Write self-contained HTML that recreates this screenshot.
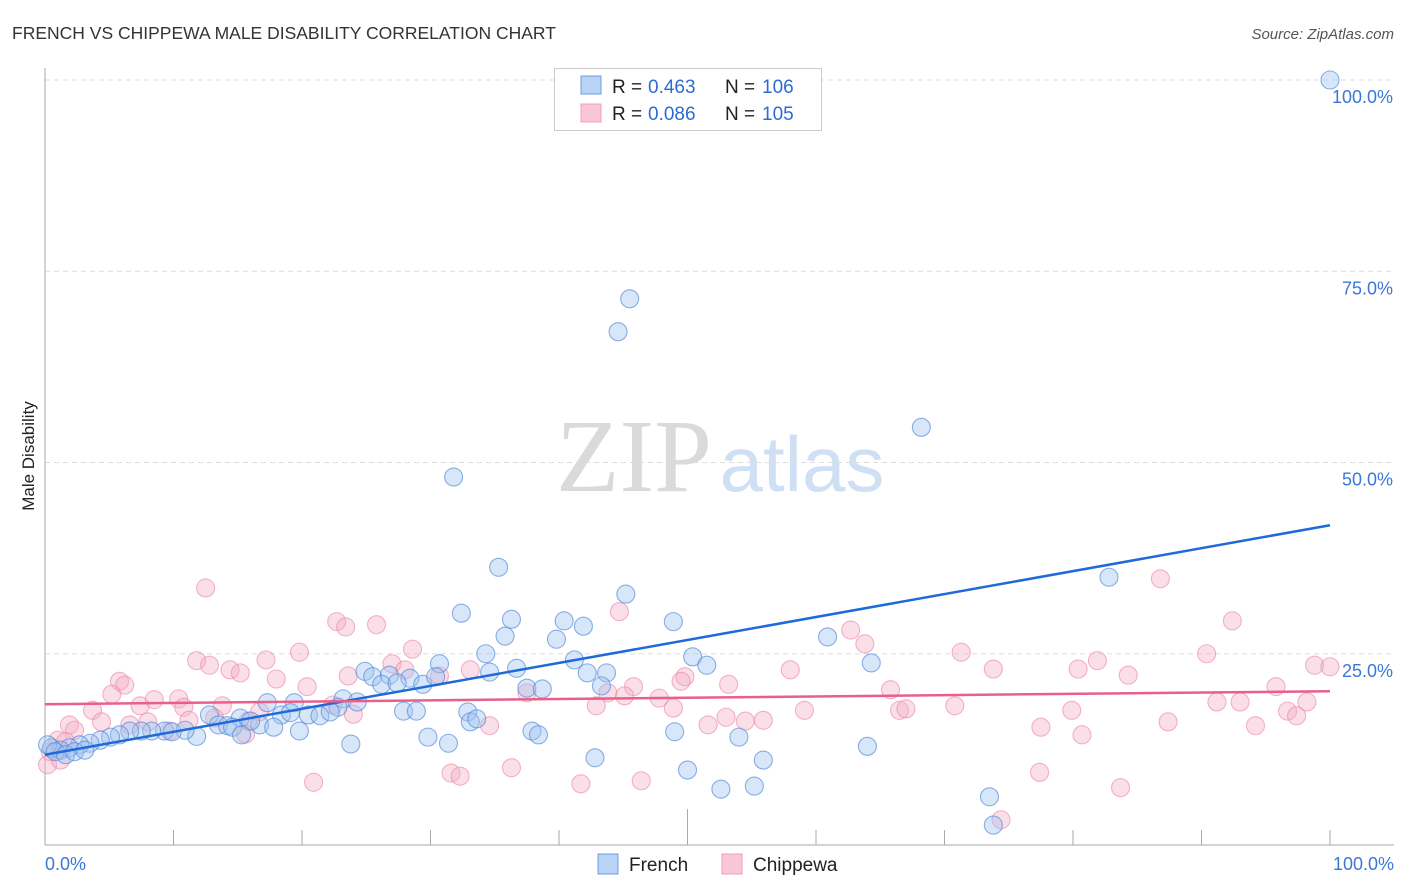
<!DOCTYPE html>
<html><head><meta charset="utf-8"><style>
body{margin:0;background:#fff;font-family:"Liberation Sans",sans-serif;}
svg{display:block}
</style></head><body>
<svg width="1406" height="892" id="chart">
<text x="12" y="39" font-size="17.5" fill="#333">FRENCH VS CHIPPEWA MALE DISABILITY CORRELATION CHART</text>
<text x="1394" y="39" font-size="15" fill="#555" font-style="italic" text-anchor="end">Source: ZipAtlas.com</text>
<text transform="translate(34,456) rotate(-90)" font-size="17" fill="#222" text-anchor="middle">Male Disability</text>
<g>
<text x="634" y="491" font-size="104" font-family="Liberation Serif,serif" fill="#dadada" text-anchor="middle">ZIP</text>
<text x="802" y="491" font-size="78" fill="#cfe0f5" text-anchor="middle">atlas</text>
</g>
<g id="grid"></g><g id="axes"></g><g id="pts"></g><g id="lines"></g>
<g>
<rect x="554.5" y="68.5" width="267" height="62" fill="#fff" stroke="#ccc"/>
<rect x="581" y="76" width="20" height="18" fill="#b9d3f5" stroke="#6d9de0"/>
<text x="612" y="93" font-size="19" fill="#222">R =</text>
<text x="648" y="93" font-size="19" fill="#2d6cd0">0.463</text>
<text x="725" y="93" font-size="19" fill="#222">N =</text>
<text x="762" y="93" font-size="19" fill="#2d6cd0">106</text>
<rect x="581" y="104" width="20" height="18" fill="#f8c6d5" stroke="#f0a0b8"/>
<text x="612" y="120" font-size="19" fill="#222">R =</text>
<text x="648" y="120" font-size="19" fill="#2d6cd0">0.086</text>
<text x="725" y="120" font-size="19" fill="#222">N =</text>
<text x="762" y="120" font-size="19" fill="#2d6cd0">105</text>
</g>
<g>
<rect x="598" y="854" width="20" height="20" fill="#b9d3f5" stroke="#6d9de0"/>
<text x="629" y="871" font-size="19" fill="#222">French</text>
<rect x="722" y="854" width="20" height="20" fill="#f8c6d5" stroke="#f0a0b8"/>
<text x="753" y="871" font-size="19" fill="#222">Chippewa</text>
</g>
</svg>
<script>
const yTicks=[25,50,75,100];
const yTickLabels=["25.0%","50.0%","75.0%","100.0%"];
const frenchX=[100,45.5,44.6,68.2,31.8,35.3,82.8,45.2,32.4,36.3,40.4,41.9,48.9,60.9,35.8,39.8,34.3,41.2,50.4,64.3,51.5,30.7,36.7,34.6,24.9,42.2,43.7,25.5,26.8,28.4,26.2,27.4,29.4,30.4,37.5,38.7,43.3,23.2,24.3,17.3,19.4,22.8,27.9,28.9,32.9,33.1,33.6,18.4,20.5,21.4,22.2,19.1,12.8,15.2,16.7,17.8,19.8,13.5,14.2,16.0,14.6,11.8,15.3,10.9,9.3,9.9,8.3,7.5,6.6,5.8,5.1,4.3,3.5,2.7,1.9,1.2,0.5,0.2,0.8,1.6,2.3,3.1,23.8,31.4,29.8,37.9,38.4,49.0,54.0,64.0,42.8,55.9,50.0,52.6,55.2,73.5,73.8];
const frenchY=[100,71.4,67.1,54.6,48.1,36.3,35.0,32.8,30.3,29.5,29.3,28.6,29.2,27.2,27.3,26.9,25.0,24.2,24.6,23.8,23.5,23.7,23.1,22.6,22.7,22.5,22.5,22.0,22.2,21.8,21.0,21.2,21.0,22.0,20.5,20.4,20.8,19.1,18.7,18.6,18.6,18.0,17.5,17.5,17.4,16.1,16.5,17.0,17.0,16.9,17.4,17.3,17.0,16.6,15.7,15.4,14.9,15.7,15.6,16.2,15.4,14.2,14.4,15.0,14.9,14.8,14.9,14.9,14.9,14.4,14.1,13.7,13.3,13.1,12.7,12.4,12.7,13.1,12.2,11.8,12.2,12.4,13.2,13.3,14.1,14.9,14.4,14.8,14.1,12.9,11.4,11.1,9.8,7.3,7.7,6.3,2.6];
const chipX=[12.5,86.8,44.7,22.7,23.4,25.8,92.4,62.7,63.8,28.6,19.8,71.3,90.4,81.9,11.8,12.8,17.2,27.0,98.8,100,14.4,15.2,28.0,73.8,80.4,33.1,58.0,84.3,23.6,30.7,5.8,6.2,18.0,49.8,49.5,45.8,53.2,95.8,20.4,5.2,37.5,43.8,45.1,65.8,8.5,10.4,47.8,91.2,93.0,98.2,7.4,13.8,10.8,22.4,42.9,48.9,59.1,66.5,67.0,70.8,79.9,96.7,3.7,16.7,24.0,97.4,4.4,8.0,6.6,11.2,13.2,15.8,53.0,54.5,55.9,51.6,87.4,94.2,1.9,2.3,34.6,77.5,80.7,1.0,1.6,0.4,0.2,1.2,36.3,31.6,32.3,77.4,20.9,41.7,46.4,83.7,74.4,15.6,9.7];
const chipY=[33.6,34.8,30.5,29.2,28.5,28.8,29.3,28.1,26.3,25.6,25.2,25.2,25.0,24.1,24.1,23.5,24.2,23.7,23.5,23.3,22.9,22.5,22.9,23.0,23.0,22.9,22.9,22.2,22.1,22.1,21.4,20.9,21.7,22.0,21.4,20.7,21.0,20.7,20.7,19.7,19.9,19.9,19.5,20.3,19.0,19.1,19.2,18.7,18.7,18.7,18.2,18.2,18.0,18.3,18.2,17.9,17.6,17.6,17.8,18.2,17.6,17.5,17.6,17.4,17.1,16.9,16.1,16.1,15.7,16.3,16.6,16.2,16.7,16.2,16.3,15.7,16.1,15.6,15.7,15.0,15.6,15.4,14.4,13.7,13.5,12.2,10.5,11.1,10.1,9.4,9.0,9.5,8.2,8.0,8.4,7.5,3.3,14.5,14.9];
const frenchTrend=[11.8,41.8];
const chipTrend=[18.4,20.1];
const NS="http://www.w3.org/2000/svg";
const X0=45,X1=1330,Y0=845,Y1=80;
const sx=v=>X0+(X1-X0)*v/100, sy=v=>Y0-(Y0-Y1)*v/100;
function mk(tag,attrs,parent){const e=document.createElementNS(NS,tag);for(const k in attrs)e.setAttribute(k,attrs[k]);document.getElementById(parent).appendChild(e);return e;}
yTicks.forEach((t,i)=>{
 const l=mk('line',{x1:X0,x2:1392,y1:sy(t),y2:sy(t),stroke:'#ddd','stroke-dasharray':'5,4'},'grid');
 
 
 const tx=mk('text',{x:1393,y:sy(t)+23,'font-size':18,fill:'#3a78d6','text-anchor':'end'},'grid');
 tx.textContent=yTickLabels[i];
 
 
});
const ax=mk('line',{x1:X0,x2:X0,y1:68,y2:Y0,stroke:'#aaa'},'axes');


const bx=mk('line',{x1:X0,x2:1394,y1:Y0,y2:Y0,stroke:'#aaa'},'axes');


for(let i=1;i<=10;i++){
 const tk=mk('line',{x1:sx(i*10),x2:sx(i*10),y1:i==5?809:830,y2:Y0,stroke:'#aaa'},'axes');
 
 
}
[["0.0%",45,'start'],["100.0%",1394,'end']].forEach(a=>{
 const t=mk('text',{x:a[1],y:870,'font-size':18,fill:'#3a78d6','text-anchor':a[2]},'axes');t.textContent=a[0];
 
 
});
chipX.forEach((x,i)=>{
 const c=mk('circle',{cx:sx(x),cy:sy(chipY[i]),r:9,fill:'rgba(244,170,195,0.38)',stroke:'rgba(236,140,170,0.65)','stroke-width':1.1},'pts');
 
 
});
frenchX.forEach((x,i)=>{
 const c=mk('circle',{cx:sx(x),cy:sy(frenchY[i]),r:9,fill:'rgba(160,195,240,0.42)',stroke:'rgba(80,135,215,0.65)','stroke-width':1.1},'pts');
 
 
});
const fl=mk('line',{x1:sx(0),x2:sx(100),y1:sy(frenchTrend[0]),y2:sy(frenchTrend[1]),stroke:'#1f6ad8','stroke-width':2.5},'lines');


const cl=mk('line',{x1:sx(0),x2:sx(100),y1:sy(chipTrend[0]),y2:sy(chipTrend[1]),stroke:'#e8608a','stroke-width':2.5},'lines');


</script>
</body></html>
